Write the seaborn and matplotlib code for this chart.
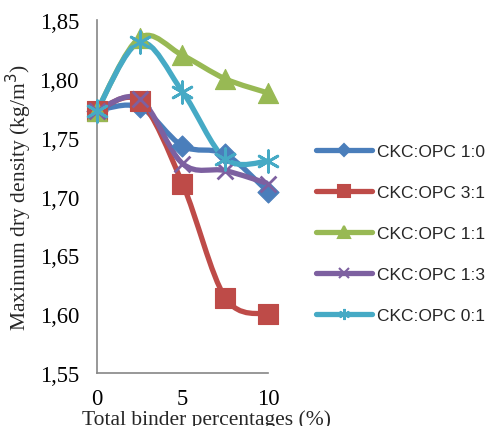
import numpy as np
import pandas as pd
import seaborn as sns
import matplotlib
matplotlib.use("Agg")
import matplotlib.pyplot as plt
from matplotlib.path import Path
from matplotlib.patches import PathPatch
from matplotlib.lines import Line2D
from matplotlib.ticker import FuncFormatter, FixedLocator

# ---- data ----
binder_pct = [0, 2.5, 5, 7.5, 10]
series_names = ["CKC:OPC 1:0", "CKC:OPC 3:1", "CKC:OPC 1:1", "CKC:OPC 1:3", "CKC:OPC 0:1"]
ckc_1_0 = [1.773, 1.776, 1.743, 1.736, 1.704]
ckc_3_1 = [1.773, 1.781, 1.711, 1.614, 1.600]
ckc_1_1 = [1.773, 1.835, 1.820, 1.800, 1.788]
ckc_1_3 = [1.773, 1.783, 1.728, 1.722, 1.711]
ckc_0_1 = [1.773, 1.831, 1.789, 1.732, 1.730]
y_ticks = [1.55, 1.60, 1.65, 1.70, 1.75, 1.80, 1.85]
x_ticks = [0, 5, 10]

values = [ckc_1_0, ckc_3_1, ckc_1_1, ckc_1_3, ckc_0_1]
colors = ["#4A7EBB", "#BE4B48", "#98B954", "#7D60A0", "#46AAC5"]
markers = ["D", "s", "^", "x", (6, 2, 0)]
msizes = [115, 200, 210, 130, 240]
leg_ms = [6, 8.5, 8, 7, 8]

df = pd.DataFrame({
    "x": binder_pct * len(series_names),
    "y": sum(values, []),
    "series": sum([[n] * len(binder_pct) for n in series_names], []),
})

sns.set_style("white")
plt.rcParams["font.family"] = ["Liberation Serif", "DejaVu Serif"]

fig = plt.figure(figsize=(4.87, 4.27), dpi=100)
ax = fig.add_axes([97 / 487, 1 - 374 / 427, (268 - 97) / 487, (374 - 21) / 427])


def smooth_path(xs, ys):
    pts = np.column_stack([xs, ys]).astype(float)
    n = len(pts)
    verts = [pts[0]]
    codes = [Path.MOVETO]
    for i in range(n - 1):
        p0 = pts[i - 1] if i > 0 else pts[i]
        p1 = pts[i]
        p2 = pts[i + 1]
        p3 = pts[i + 2] if i + 2 < n else pts[i + 1]
        c1 = p1 + (p2 - p0) / 6.0
        c2 = p2 - (p3 - p1) / 6.0
        verts += [c1, c2, p2]
        codes += [Path.CURVE4] * 3
    return Path(verts, codes)


for name, vals, c in zip(series_names, values, colors):
    patch = PathPatch(smooth_path(binder_pct, vals), fill=False, edgecolor=c,
                      lw=3.8, capstyle="round", joinstyle="round", zorder=2)
    ax.add_patch(patch)

for name, c, m, s in zip(series_names, colors, markers, msizes):
    sub = df[df["series"] == name]
    lw = 2.0 if m in ("x",) or isinstance(m, tuple) else 0.8
    sns.scatterplot(data=sub, x="x", y="y", ax=ax, color=c, marker=m, s=s,
                    edgecolor=c, linewidth=lw, zorder=3, clip_on=False, legend=False)

ax.set_xlim(0, 10)
ax.set_ylim(1.55, 1.85)
ax.xaxis.set_major_locator(FixedLocator(x_ticks))
ax.yaxis.set_major_locator(FixedLocator(y_ticks))
ax.yaxis.set_major_formatter(FuncFormatter(lambda v, p: f"{v:.2f}".replace(".", ",")))
ax.xaxis.set_major_formatter(FuncFormatter(lambda v, p: f"{v:g}"))

for side in ["top", "right"]:
    ax.spines[side].set_visible(False)
for side in ["left", "bottom"]:
    ax.spines[side].set_color("#868686")
    ax.spines[side].set_linewidth(1.2)
ax.tick_params(axis="both", which="major", direction="out", length=4, width=1.2,
               color="#868686", labelsize=16.3, labelcolor="black")
ax.tick_params(axis="y", pad=9)
ax.tick_params(axis="x", pad=7)

ax.set_xlabel("Total binder percentages (%)", fontsize=15.5)
ax.set_ylabel("Maximum dry density (kg/m$^3$)", fontsize=15.5)
ax.xaxis.set_label_coords(0.643, -0.103)
ax.yaxis.set_label_coords(-0.37, 0.5)

handles = [Line2D([0], [0], color=c, lw=3.8, marker=m, markersize=ms,
                  markerfacecolor=c, markeredgecolor=c, solid_capstyle="round",
                  markeredgewidth=1.5)
           for c, m, ms in zip(colors, markers, leg_ms)]
fig.legend(handles, series_names, loc="center left",
           bbox_to_anchor=(316 / 487, 1 - 234.5 / 427), frameon=False,
           borderpad=0, borderaxespad=0, handlelength=3.2, handletextpad=0.3,
           labelspacing=1.5, prop={"family": ["Liberation Sans", "DejaVu Sans"], "size": 12.5})

fig.savefig("out.png", dpi=100)
